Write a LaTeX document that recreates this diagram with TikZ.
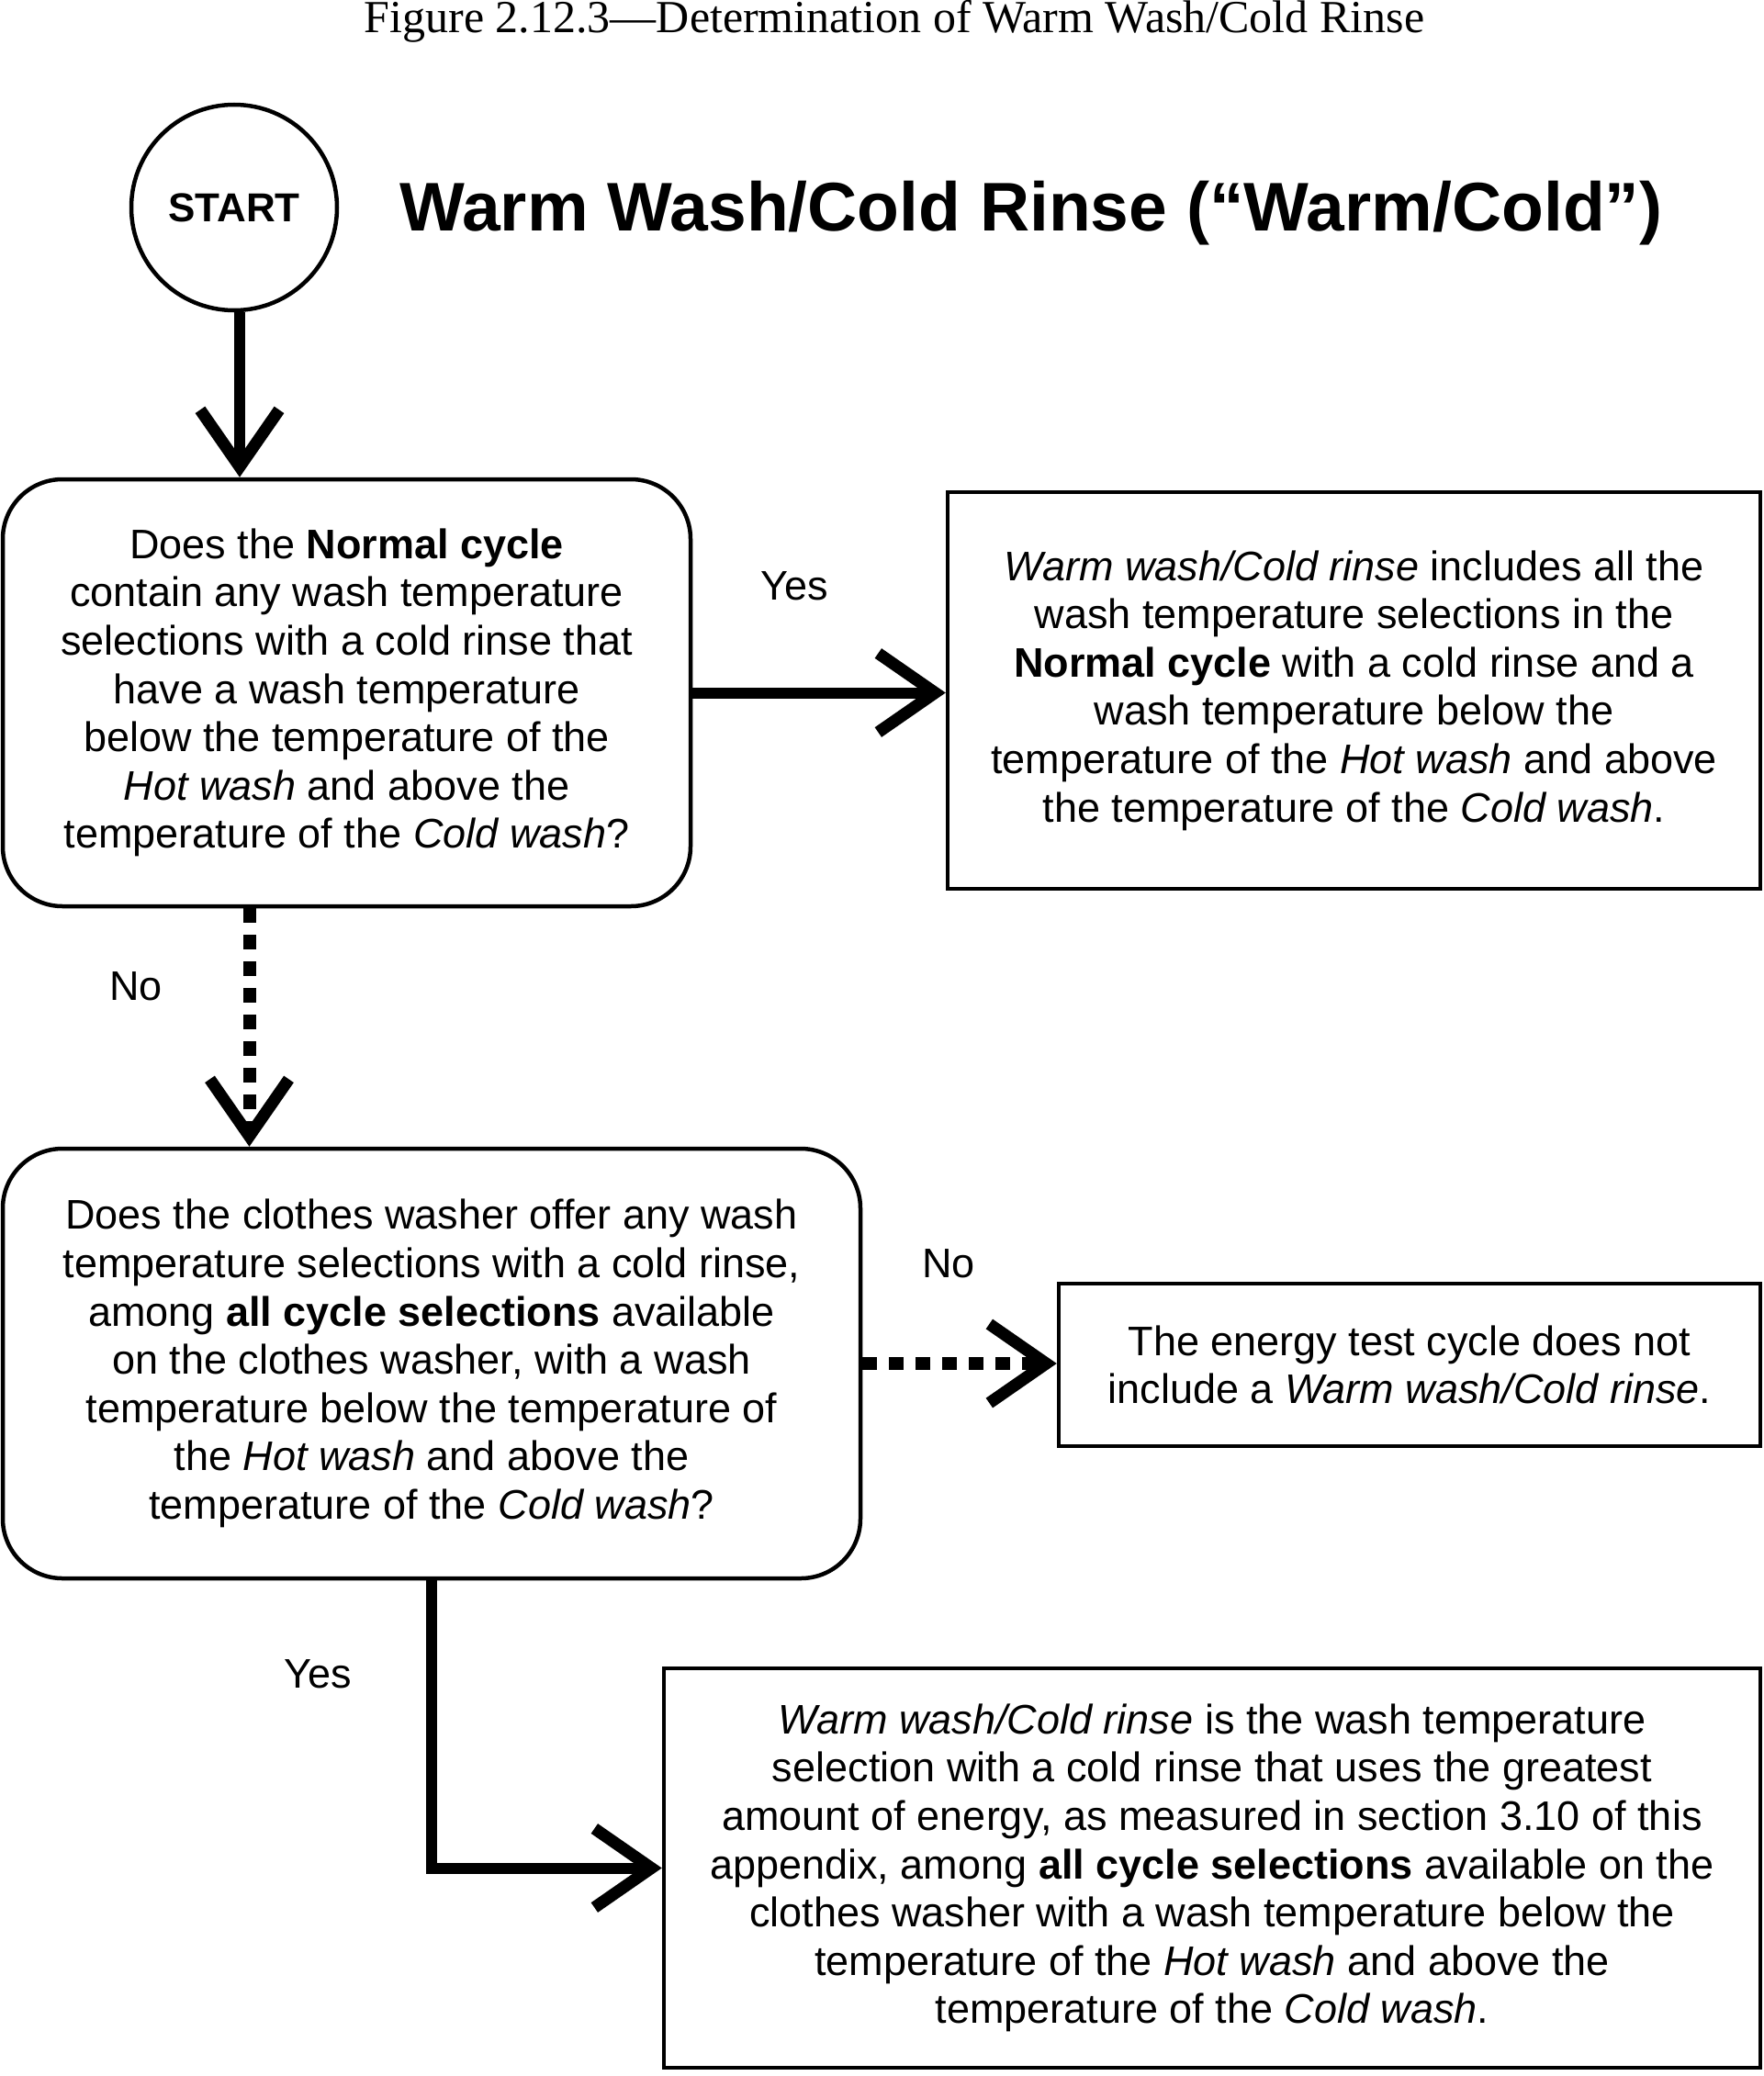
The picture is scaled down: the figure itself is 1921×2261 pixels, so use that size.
\documentclass[tikz,border=0pt]{standalone}
\usepackage{fontspec}
\setmainfont{Liberation Sans}
\newfontfamily\timesfont{Liberation Serif}
\usetikzlibrary{arrows.meta}
\begin{document}
\begin{tikzpicture}[x=1pt,y=-1pt,
  boxtxt/.style={align=center,font=\fontsize{45}{52.6}\selectfont},
  rbox/.style={boxtxt,draw,line width=4.5pt,rounded corners=65pt,inner sep=0pt},
  sbox/.style={boxtxt,draw,line width=4.5pt,inner sep=0pt},
  lbl/.style={font=\fontsize{45}{52}\selectfont},
  arr/.style={line width=12pt,-{Straight Barb[length=62pt,width=86pt,line width=13pt]}},
  darr/.style={line width=14pt,dash pattern=on 16pt off 13pt,-{Straight Barb[length=62pt,width=86pt,line width=13pt]}}]
\useasboundingbox (0,0) rectangle (1921,2261);
\node[anchor=base,font=\timesfont\fontsize{50}{60}\selectfont] (title) at (974,36) {Figure 2.12.3—Determination of Warm Wash/Cold Rinse};
\node[draw,circle,line width=4.5pt,minimum size=224pt,inner sep=0pt,font=\bfseries\fontsize{44}{52}\selectfont] (start) at (255,226) {START};
\node[anchor=base west,font=\bfseries\fontsize{75}{80}\selectfont,inner sep=0pt] (head) at (435,251) {Warm Wash/Cold Rinse (“Warm/Cold”)};
\node[rbox,minimum width=749pt,minimum height=465pt] (b1) at (377.5,754.5) {Does the \textbf{Normal cycle}\\contain any wash temperature\\selections with a cold rinse that\\have a wash temperature\\below the temperature of the\\\textit{Hot wash} and above the\\temperature of the \textit{Cold wash}?};
\node[sbox,minimum width=885pt,minimum height=432pt] (b2) at (1474.5,752) {\textit{Warm wash/Cold rinse} includes all the\\wash temperature selections in the\\\textbf{Normal cycle} with a cold rinse and a\\wash temperature below the\\temperature of the \textit{Hot wash} and above\\the temperature of the \textit{Cold wash}.};
\node[rbox,minimum width=934pt,minimum height=468pt] (b3) at (470,1485) {Does the clothes washer offer any wash\\temperature selections with a cold rinse,\\among \textbf{all cycle selections} available\\on the clothes washer, with a wash\\temperature below the temperature of\\the \textit{Hot wash} and above the\\temperature of the \textit{Cold wash}?};
\node[sbox,minimum width=764pt,minimum height=177pt] (b4) at (1535,1486.5) {The energy test cycle does not\\include a \textit{Warm wash/Cold rinse}.};
\node[sbox,minimum width=1194pt,minimum height=435pt] (b5) at (1320,2034.5) {\textit{Warm wash/Cold rinse} is the wash temperature\\selection with a cold rinse that uses the greatest\\amount of energy, as measured in section 3.10 of this\\appendix, among \textbf{all cycle selections} available on the\\clothes washer with a wash temperature below the\\temperature of the \textit{Hot wash} and above the\\temperature of the \textit{Cold wash}.};
\node[lbl] (yes1) at (865,638) {Yes};
\node[lbl] (no1) at (148,1074) {No};
\node[lbl] (no2) at (1033,1376) {No};
\node[lbl] (yes2) at (346,1823) {Yes};
\draw[arr] ([xshift=6pt]start.south) -- ([xshift=6pt]start.south |- b1.north);
\draw[arr] (b1.east) -- (b1.east -| b2.west);
\draw[darr] ([xshift=-106pt]b1.south) -- ([xshift=-106pt]b1.south |- b3.north);
\draw[darr] (b3.east) -- (b3.east -| b4.west);
\draw[arr] (b3.south) |- (b5.west);
\end{tikzpicture}
\end{document}
